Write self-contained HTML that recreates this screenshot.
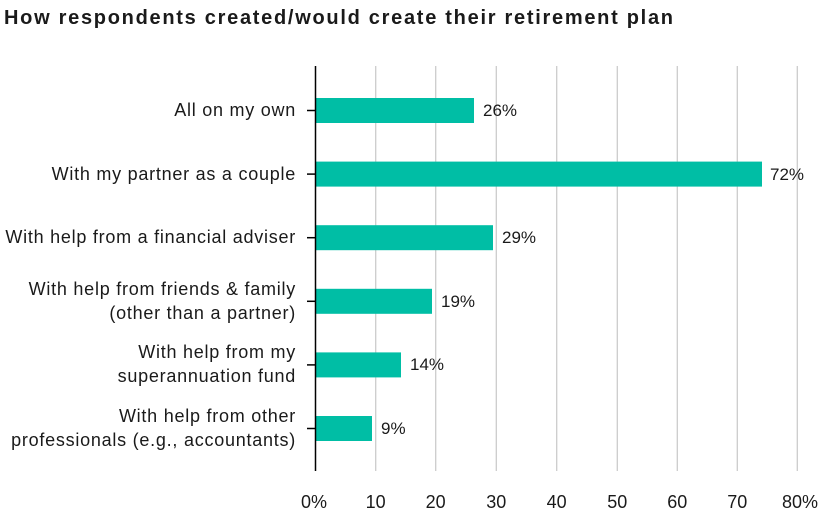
<!DOCTYPE html>
<html><head><meta charset="utf-8"><style>
body{margin:0;background:#fff;}
svg{display:block;font-family:"Liberation Sans",sans-serif;}
</style></head><body>
<svg width="839" height="526" viewBox="0 0 839 526">
<text x="4" y="24" font-size="20" font-weight="bold" fill="#1a1a1a" textLength="669" lengthAdjust="spacing">How respondents created/would create their retirement plan</text>
<g stroke="#cccccc" stroke-width="1.3">
<line x1="375.7" y1="66" x2="375.7" y2="471"/>
<line x1="435.7" y1="66" x2="435.7" y2="471"/>
<line x1="496.3" y1="66" x2="496.3" y2="471"/>
<line x1="556.7" y1="66" x2="556.7" y2="471"/>
<line x1="617.3" y1="66" x2="617.3" y2="471"/>
<line x1="677.3" y1="66" x2="677.3" y2="471"/>
<line x1="737.3" y1="66" x2="737.3" y2="471"/>
<line x1="797.3" y1="66" x2="797.3" y2="471"/>
</g>
<g fill="#00bea5">
<rect x="315.5" y="98" width="158.5" height="25"/>
<rect x="315.5" y="161.6" width="446.5" height="25"/>
<rect x="315.5" y="225.2" width="177.5" height="25"/>
<rect x="315.5" y="288.8" width="116.5" height="25"/>
<rect x="315.5" y="352.4" width="85.5" height="25"/>
<rect x="315.5" y="416" width="56.5" height="25"/>
</g>
<g stroke="#000" stroke-width="1.5">
<line x1="315.5" y1="66" x2="315.5" y2="471"/>
<line x1="307" y1="110.5" x2="315.5" y2="110.5"/>
<line x1="307" y1="174.1" x2="315.5" y2="174.1"/>
<line x1="307" y1="237.7" x2="315.5" y2="237.7"/>
<line x1="307" y1="301.3" x2="315.5" y2="301.3"/>
<line x1="307" y1="364.9" x2="315.5" y2="364.9"/>
<line x1="307" y1="428.5" x2="315.5" y2="428.5"/>
</g>
<g font-size="17" fill="#1a1a1a">
<text x="483" y="116">26%</text>
<text x="770" y="180">72%</text>
<text x="502" y="243">29%</text>
<text x="441" y="307">19%</text>
<text x="410" y="370">14%</text>
<text x="381" y="434">9%</text>
</g>
<g font-size="18" fill="#1a1a1a" text-anchor="end" letter-spacing="0.75">
<text x="296" y="116">All on my own</text>
<text x="296" y="180">With my partner as a couple</text>
<text x="296" y="243">With help from a financial adviser</text>
<text x="296" y="295">With help from friends &amp; family</text>
<text x="296" y="319">(other than a partner)</text>
<text x="296" y="358">With help from my</text>
<text x="296" y="382">superannuation fund</text>
<text x="296" y="422">With help from other</text>
<text x="296" y="446">professionals (e.g., accountants)</text>
</g>
<g font-size="18" fill="#1a1a1a" text-anchor="middle">
<text x="314" y="508">0%</text>
<text x="375.7" y="508">10</text>
<text x="435.7" y="508">20</text>
<text x="496.3" y="508">30</text>
<text x="556.7" y="508">40</text>
<text x="617.3" y="508">50</text>
<text x="677.3" y="508">60</text>
<text x="737.3" y="508">70</text>
<text x="800" y="508">80%</text>
</g>
</svg>
</body></html>
